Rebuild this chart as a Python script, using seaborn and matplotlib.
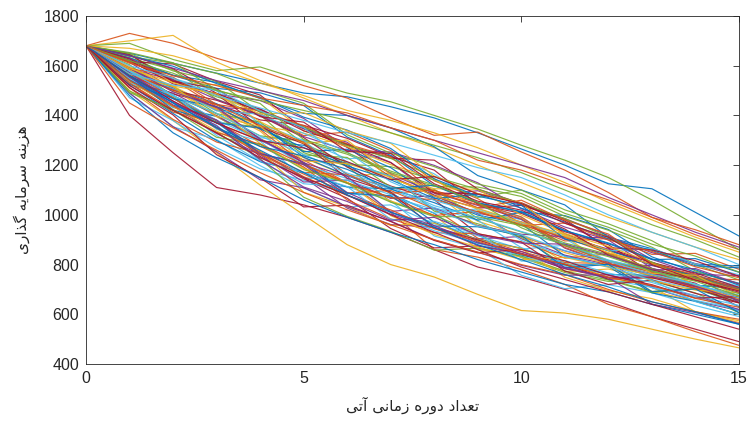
import pandas as pd
import matplotlib
matplotlib.use("Agg")
import matplotlib.pyplot as plt
import seaborn as sns

# ---------------- data ----------------
periods = list(range(16))
x_ticks = [0, 5, 10, 15]
y_ticks = [400, 600, 800, 1000, 1200, 1400, 1600, 1800]
x_label = "تعداد دوره زمانی آتی"
y_label = "هزینه سرمایه گذاری"

path01 = [1680,1650,1610,1570,1530,1490,1475,1435,1390,1330,1265,1200,1125,1105,1010,915]
path02 = [1680,1730,1690,1630,1580,1520,1470,1390,1320,1333,1253,1180,1090,990,920,860]
path03 = [1680,1700,1722,1615,1540,1470,1400,1330,1270,1200,1130,1060,990,930,870,820]
path04 = [1680,1690,1625,1580,1595,1540,1490,1455,1400,1345,1280,1220,1150,1060,960,860]
path05 = [1680,1400,1250,1110,1080,1040,990,930,860,790,750,700,650,590,540,490]
path06 = [1680,1500,1380,1250,1120,1000,880,800,750,680,615,605,580,540,500,465]
path07 = [1680,1560,1450,1370,1300,1220,1130,1010,860,830,780,720,640,590,530,475]
path08 = [1680,1588,1542,1486,1460,1388,1272,1210,1078,1005,904,838,800,796,755,696]
path09 = [1680,1543,1431,1399,1310,1301,1225,1240,1165,1047,990,875,811,769,757,713]
path10 = [1680,1539,1435,1396,1298,1280,1204,1085,1006,890,838,798,800,754,716,706]
path11 = [1680,1586,1469,1379,1253,1151,1027,961,950,903,913,855,809,707,653,615]
path12 = [1680,1631,1584,1465,1402,1250,1196,1052,998,926,828,768,732,734,686,606]
path13 = [1680,1471,1379,1270,1185,1139,1085,1073,1021,1015,981,905,801,739,701,649]
path14 = [1680,1584,1480,1379,1235,1145,1067,945,867,875,843,783,747,749,711,655]
path15 = [1680,1632,1561,1509,1491,1440,1313,1239,1117,1047,1011,997,941,831,769,725]
path16 = [1680,1552,1509,1420,1407,1319,1333,1259,1137,1065,965,895,905,841,845,781]
path17 = [1680,1596,1506,1395,1306,1230,1156,1168,1092,974,920,808,750,712,610,574]
path18 = [1680,1533,1490,1399,1301,1220,1209,1155,1079,1097,1041,985,917,821,761,755]
path19 = [1680,1645,1544,1475,1420,1286,1210,1158,1015,964,910,798,740,692,704,656]
path20 = [1680,1553,1451,1319,1215,1125,1113,1057,915,865,757,703,719,687,635,591]
path21 = [1680,1565,1486,1445,1382,1360,1308,1234,1180,1042,1006,932,880,766,725,630]
path22 = [1680,1619,1562,1533,1468,1408,1400,1350,1274,1158,1100,1040,910,864,802,794]
path23 = [1680,1511,1384,1293,1246,1164,1088,1098,1024,906,852,808,804,762,752,708]
path24 = [1680,1586,1498,1426,1337,1188,1130,1056,998,862,830,772,782,744,738,696]
path25 = [1680,1614,1507,1427,1306,1212,1090,1014,1028,957,922,912,862,798,754,648]
path26 = [1680,1553,1473,1373,1353,1258,1203,1194,1140,1070,1100,1020,964,896,800,738]
path27 = [1680,1489,1354,1303,1198,1108,1032,1040,964,916,862,878,814,772,714,628]
path28 = [1680,1616,1607,1537,1482,1347,1272,1152,1077,1027,1038,982,866,808,766,708]
path29 = [1680,1563,1508,1447,1364,1232,1158,1092,970,900,866,802,760,757,717,704]
path30 = [1680,1530,1413,1373,1276,1193,1060,984,928,924,892,826,843,784,742,696]
path31 = [1680,1619,1534,1523,1474,1338,1286,1146,1090,954,918,848,802,692,654,598]
path32 = [1680,1553,1437,1327,1242,1132,1140,1066,1077,1007,972,902,912,848,804,752]
path33 = [1680,1604,1478,1407,1318,1296,1244,1170,1114,1112,1074,994,938,870,774,722]
path34 = [1680,1583,1481,1381,1304,1201,1146,1012,936,886,834,794,740,708,656,620]
path35 = [1680,1642,1588,1489,1414,1354,1280,1228,1220,1104,1046,924,856,810,748,702]
path36 = [1680,1525,1469,1370,1349,1254,1264,1190,1069,999,964,834,792,686,652,600]
path37 = [1680,1571,1471,1351,1254,1171,1161,1106,1098,1048,992,876,812,770,712,670]
path38 = [1680,1562,1518,1429,1358,1329,1274,1202,1146,1019,964,914,794,756,702,664]
path39 = [1680,1586,1511,1431,1426,1346,1292,1164,1088,1038,982,866,802,761,750,706]
path40 = [1680,1498,1421,1332,1226,1071,994,934,858,866,834,774,738,688,702,646]
path41 = [1680,1624,1549,1499,1366,1299,1160,1104,1029,978,868,804,762,708,670,614]
path42 = [1680,1573,1501,1461,1398,1311,1192,1116,1061,924,890,774,720,738,684,646]
path43 = [1680,1522,1408,1299,1214,1170,1112,1104,1049,979,1010,936,884,820,824,769]
path44 = [1680,1615,1545,1434,1344,1205,1129,1071,997,1014,959,909,845,803,745,739]
path45 = [1680,1536,1436,1337,1257,1091,1033,957,967,899,865,749,695,663,611,567]
path46 = [1680,1630,1543,1464,1401,1315,1259,1253,1199,1129,1025,951,899,785,743,695]
path47 = [1680,1570,1516,1407,1373,1241,1231,1111,1103,986,931,881,817,775,717,675]
path48 = [1680,1530,1484,1344,1297,1149,1139,1081,1007,1024,969,919,855,865,803,759]
path49 = [1680,1646,1536,1486,1353,1286,1147,1091,947,899,845,801,741,747,705,647]
path50 = [1680,1562,1467,1436,1346,1271,1197,1141,1066,1083,1027,971,903,857,795,787]
path51 = [1680,1590,1554,1444,1419,1359,1285,1233,1091,1041,985,869,805,763,705,664]
path52 = [1680,1584,1497,1425,1287,1186,1131,997,921,871,819,829,789,735,697,686]
path53 = [1680,1490,1355,1254,1141,1109,1033,975,899,849,797,757,759,713,675,619]
path54 = [1680,1637,1610,1569,1502,1449,1322,1248,1194,1124,1086,1006,950,882,834,770]
path55 = [1680,1548,1441,1361,1216,1171,1114,982,974,922,814,816,766,728,674,636]
path56 = [1680,1621,1527,1488,1425,1338,1283,1211,1088,1085,1049,975,868,859,815,753]
path57 = [1680,1560,1422,1372,1245,1207,1087,1077,955,952,917,787,801,691,702,607]
path58 = [1680,1530,1423,1331,1285,1202,1127,1069,1062,1012,957,967,899,853,791,747]
path59 = [1680,1592,1518,1488,1375,1288,1301,1161,1105,1103,999,925,873,809,717,659]
path60 = [1680,1557,1442,1382,1247,1202,1079,1003,947,877,845,785,749,751,713,657]
path61 = [1680,1649,1579,1538,1413,1353,1279,1227,1153,1103,1045,985,911,809,747,703]
path62 = [1680,1578,1508,1418,1405,1328,1253,1133,1058,1008,897,833,791,737,651,599]
path63 = [1680,1512,1402,1242,1149,1032,1039,973,897,847,861,815,757,719,665,671]
path64 = [1680,1640,1598,1528,1473,1393,1341,1267,1145,1075,1039,903,857,799,757,699]
path65 = [1680,1567,1503,1442,1359,1292,1163,1087,1099,1029,1059,979,923,803,759,699]
path66 = [1680,1565,1516,1396,1356,1217,1206,1151,1076,1026,971,921,857,765,757,671]
path67 = [1680,1590,1495,1434,1304,1209,1155,1011,957,887,853,789,747,641,607,563]
path68 = [1680,1492,1422,1312,1283,1182,1127,1051,993,992,957,887,841,783,741,683]
path69 = [1680,1577,1478,1409,1317,1243,1168,1113,1037,989,933,883,818,778,719,677]
path70 = [1680,1627,1538,1508,1395,1373,1255,1247,1125,1055,1019,943,838,779,737,689]
path71 = [1680,1543,1452,1352,1275,1237,1183,1107,1119,1049,1013,937,887,823,779,717]
path72 = [1680,1542,1439,1349,1244,1154,1078,1020,944,894,842,802,748,716,664,628]
path73 = [1680,1589,1532,1481,1406,1411,1338,1288,1156,1086,1048,916,848,802,740,696]
path74 = [1680,1571,1457,1358,1222,1112,1054,978,990,920,886,882,836,778,784,722]
path75 = [1680,1653,1612,1503,1448,1303,1250,1176,1120,1050,948,878,832,774,733,674]
path76 = [1680,1568,1522,1501,1418,1351,1211,1156,1022,954,920,856,814,760,722,666]
path77 = [1680,1560,1458,1369,1299,1269,1214,1142,1154,1084,1046,966,910,800,738,694]
path78 = [1680,1480,1330,1230,1150,1060,990,930,880,820,770,720,690,640,600,560]
path79 = [1680,1450,1350,1260,1170,1090,1020,960,900,850,800,760,700,650,610,580]
path80 = [1680,1670,1640,1590,1530,1480,1420,1380,1330,1270,1200,1130,1050,980,910,850]
path81 = [1680,1640,1590,1540,1500,1460,1400,1350,1300,1250,1200,1150,1070,1000,930,870]
path82 = [1680,1620,1570,1500,1460,1420,1380,1330,1280,1230,1170,1100,1030,960,900,830]
path83 = [1680,1600,1550,1480,1430,1380,1330,1290,1240,1190,1150,1080,1000,930,870,800]
path84 = [1680,1520,1420,1330,1230,1150,1080,1000,930,860,790,740,690,640,590,540]
path85 = [1680,1560,1450,1350,1260,1170,1080,1010,950,880,820,760,710,650,610,560]
path86 = [1680,1610,1560,1520,1470,1440,1410,1350,1300,1220,1180,1120,1060,990,940,880]

# drawing order (each run takes the next MATLAB colour in turn)
all_paths = [path01, path02, path03, path08, path04, path09, path05, path10, path07, path06,
             path11, path12, path13, path14, path15, path16, path17, path18, path19, path20,
             path21, path22, path23, path24, path25, path26, path27, path28, path29, path30,
             path31, path32, path33, path34, path35, path36, path37, path38, path39, path40,
             path41, path42, path43, path44, path45, path46, path47, path48, path49, path50,
             path51, path52, path53, path54, path55, path56, path57, path58, path59, path60,
             path61, path62, path63, path64, path65, path66, path67, path68, path69, path70,
             path71, path72, path73, path74, path75, path76, path77, path78, path79, path80,
             path81, path82, path83, path84, path85, path86]

# MATLAB default colour order
matlab_colors = ["#0072BD", "#D95319", "#EDB120", "#7E2F8E", "#77AC30", "#4DBEEE", "#A2142F"]

# ---------------- minimal Persian shaping for matplotlib ----------------
FORMS = {  # isolated, final, initial, medial
    "\u0647": ("\uFEE9", "\uFEEA", "\uFEEB", "\uFEEC"),
    "\u0632": ("\uFEAF", "\uFEB0", None, None),
    "\u06CC": ("\uFBFC", "\uFBFD", "\uFBFE", "\uFBFF"),
    "\u0646": ("\uFEE5", "\uFEE6", "\uFEE7", "\uFEE8"),
    "\u0633": ("\uFEB1", "\uFEB2", "\uFEB3", "\uFEB4"),
    "\u0631": ("\uFEAD", "\uFEAE", None, None),
    "\u0645": ("\uFEE1", "\uFEE2", "\uFEE3", "\uFEE4"),
    "\u0627": ("\uFE8D", "\uFE8E", None, None),
    "\u06AF": ("\uFB92", "\uFB93", "\uFB94", "\uFB95"),
    "\u0630": ("\uFEAB", "\uFEAC", None, None),
    "\u062A": ("\uFE95", "\uFE96", "\uFE97", "\uFE98"),
    "\u0639": ("\uFEC9", "\uFECA", "\uFECB", "\uFECC"),
    "\u062F": ("\uFEA9", "\uFEAA", None, None),
    "\u0648": ("\uFEED", "\uFEEE", None, None),
    "\u0622": ("\uFE81", "\uFE82", None, None),
}


def shape_fa(text):
    out = []
    n = len(text)
    for i, ch in enumerate(text):
        if ch not in FORMS:
            out.append(ch)
            continue
        f = FORMS[ch]
        prev = text[i - 1] if i > 0 else None
        nxt = text[i + 1] if i < n - 1 else None
        prev_joins = prev in FORMS and FORMS[prev][2] is not None
        next_joins = nxt in FORMS and f[2] is not None
        if prev_joins and next_joins:
            g = f[3]
        elif prev_joins:
            g = f[1]
        elif next_joins:
            g = f[2]
        else:
            g = f[0]
        out.append(g)
    return "".join(out)[::-1]


# ---------------- build long-form table ----------------
rows = []
for k, p in enumerate(all_paths):
    for t, v in zip(periods, p):
        rows.append({"run": k, "period": t, "cost": v})
df = pd.DataFrame(rows)

sns.set_theme(style="white")
plt.rcParams["font.family"] = ["Liberation Sans", "DejaVu Sans"]

fig = plt.figure(figsize=(7.49, 4.21), dpi=100)
ax = fig.add_axes([0.1148, 0.1354, 0.8718, 0.8266])

palette = [matlab_colors[k % len(matlab_colors)] for k in range(len(all_paths))]
sns.lineplot(data=df, x="period", y="cost", hue="run", palette=palette,
             estimator=None, legend=False, linewidth=0.85, alpha=0.9, ax=ax)

ax.set_xlim(0, 15)
ax.set_ylim(400, 1800)
ax.set_xticks(x_ticks)
ax.set_yticks(y_ticks)
ax.tick_params(direction="in", length=4, width=0.6, colors="#262626",
               labelsize=11.5, top=True, right=True, pad=5)
for s in ax.spines.values():
    s.set_visible(True)
    s.set_color("#262626")
    s.set_linewidth(0.6)

ax.set_xlabel(shape_fa(x_label), family=["DejaVu Sans"], fontsize=11, color="#262626", labelpad=8)
ax.set_ylabel(shape_fa(y_label), family=["DejaVu Sans"], fontsize=11, color="#262626", labelpad=10)

fig.savefig("out.png", dpi=100)
